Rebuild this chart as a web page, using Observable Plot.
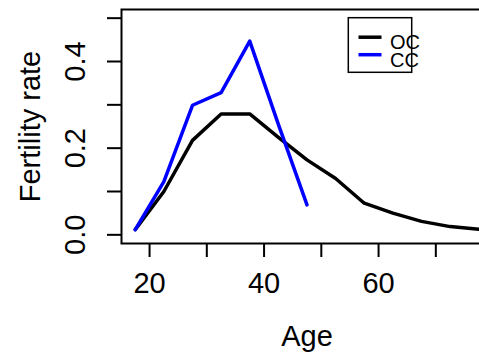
<!DOCTYPE html>
<html>
<head>
<meta charset="utf-8">
<script src="https://cdn.jsdelivr.net/npm/d3@7"></script>
<script src="https://cdn.jsdelivr.net/npm/@observablehq/plot@0.6"></script>
<style>
  html, body { margin: 0; padding: 0; background: white; overflow: hidden; }
  #wrap { position: relative; width: 479px; height: 355px; overflow: hidden; }
  #wrap svg { display: block; max-width: none !important; }
  #wrap svg.chart { width: 500px !important; height: 355px !important; }
  #legend { position: absolute; left: 0; top: 0; overflow: visible; }
</style>
</head>
<body>
<div id="wrap"></div>
<script>
// ---- data ----
const seriesNames = ["OC", "CC"];
const seriesColors = ["black", "blue"];
const ocAges = [17.5, 22.5, 27.5, 32.5, 37.5, 42.5, 47.5, 52.5, 57.5, 62.5, 67.5, 72.5, 77.5];
const ocRate = [0.012, 0.100, 0.218, 0.279, 0.279, 0.225, 0.173, 0.130, 0.073, 0.050, 0.031, 0.019, 0.013];
const ccAges = [17.5, 22.5, 27.5, 32.5, 37.5, 42.5, 47.5];
const ccRate = [0.012, 0.123, 0.299, 0.328, 0.447, 0.255, 0.069];
const xTicks = [20, 30, 40, 50, 60, 70];
const xTickLabels = ["20", "", "40", "", "60", ""];
const yTicks = [0, 0.1, 0.2, 0.3, 0.4, 0.5];
const yTickLabels = ["0.0", "", "0.2", "", "0.4", ""];
const xLabel = "Age";
const yLabel = "Fertility rate";

const rows = [
  ...ocAges.map((a, i) => ({age: a, rate: ocRate[i], series: "OC"})),
  ...ccAges.map((a, i) => ({age: a, rate: ccRate[i], series: "CC"}))
];

const font = "'Liberation Sans', Arial, Helvetica, sans-serif";

const chart = Plot.plot({
  width: 500,
  height: 355,
  marginLeft: 121,
  marginRight: 8,
  marginTop: 9,
  marginBottom: 112,
  style: {fontFamily: font, fontSize: "29px", color: "black", background: "white", overflow: "visible"},
  x: {domain: [15.1, 79.9]},
  y: {domain: [-0.02, 0.52]},
  color: {domain: seriesNames, range: seriesColors},
  marks: [
    Plot.line(rows, {x: "age", y: "rate", z: "series", stroke: "series", strokeWidth: 3.5,
      strokeLinejoin: "round", strokeLinecap: "round"}),
    Plot.frame({stroke: "black", strokeWidth: 2}),
    Plot.axisX({ticks: xTicks, tickSize: 14, tickPadding: 15, strokeWidth: 2,
      tickFormat: d => xTickLabels[xTicks.indexOf(d)], label: null, fill: "black"}),
    Plot.axisY({ticks: yTicks, tickSize: 14, tickPadding: 23, tickRotate: -90, strokeWidth: 2,
      tickFormat: d => yTickLabels[yTicks.findIndex(t => Math.abs(t - d) < 1e-9)], label: null, fill: "black"}),
    Plot.text([xLabel], {frameAnchor: "bottom", dy: 93.7, textAnchor: "middle", lineAnchor: "middle", fill: "black"}),
    Plot.text([yLabel], {frameAnchor: "left", rotate: -90, dx: -90.3, textAnchor: "middle", lineAnchor: "middle", fill: "black"})
  ]
});
chart.classList.add("chart");

const wrap = document.getElementById("wrap");
wrap.appendChild(chart);

// ---- legend (R-style box, top right) ----
const leg = d3.select(wrap).append("svg")
  .attr("id", "legend").attr("width", 479).attr("height", 355);
leg.append("rect")
  .attr("x", 348.3).attr("y", 17.7).attr("width", 63.4).attr("height", 54.6)
  .attr("fill", "white").attr("stroke", "black").attr("stroke-width", 1.5);
const rowsG = leg.selectAll("g.entry").data(seriesNames).join("g")
  .attr("class", "entry")
  .attr("transform", (d, i) => `translate(0, ${i * 17.5})`);
rowsG.append("line")
  .attr("x1", 358.5).attr("x2", 381.5).attr("y1", 37.2).attr("y2", 37.2)
  .attr("stroke", (d, i) => seriesColors[i]).attr("stroke-width", 3.5);
rowsG.append("text")
  .attr("x", 390).attr("y", 49.3)
  .attr("font-family", font).attr("font-size", 20).attr("fill", "black")
  .text(d => d);
</script>
</body>
</html>
